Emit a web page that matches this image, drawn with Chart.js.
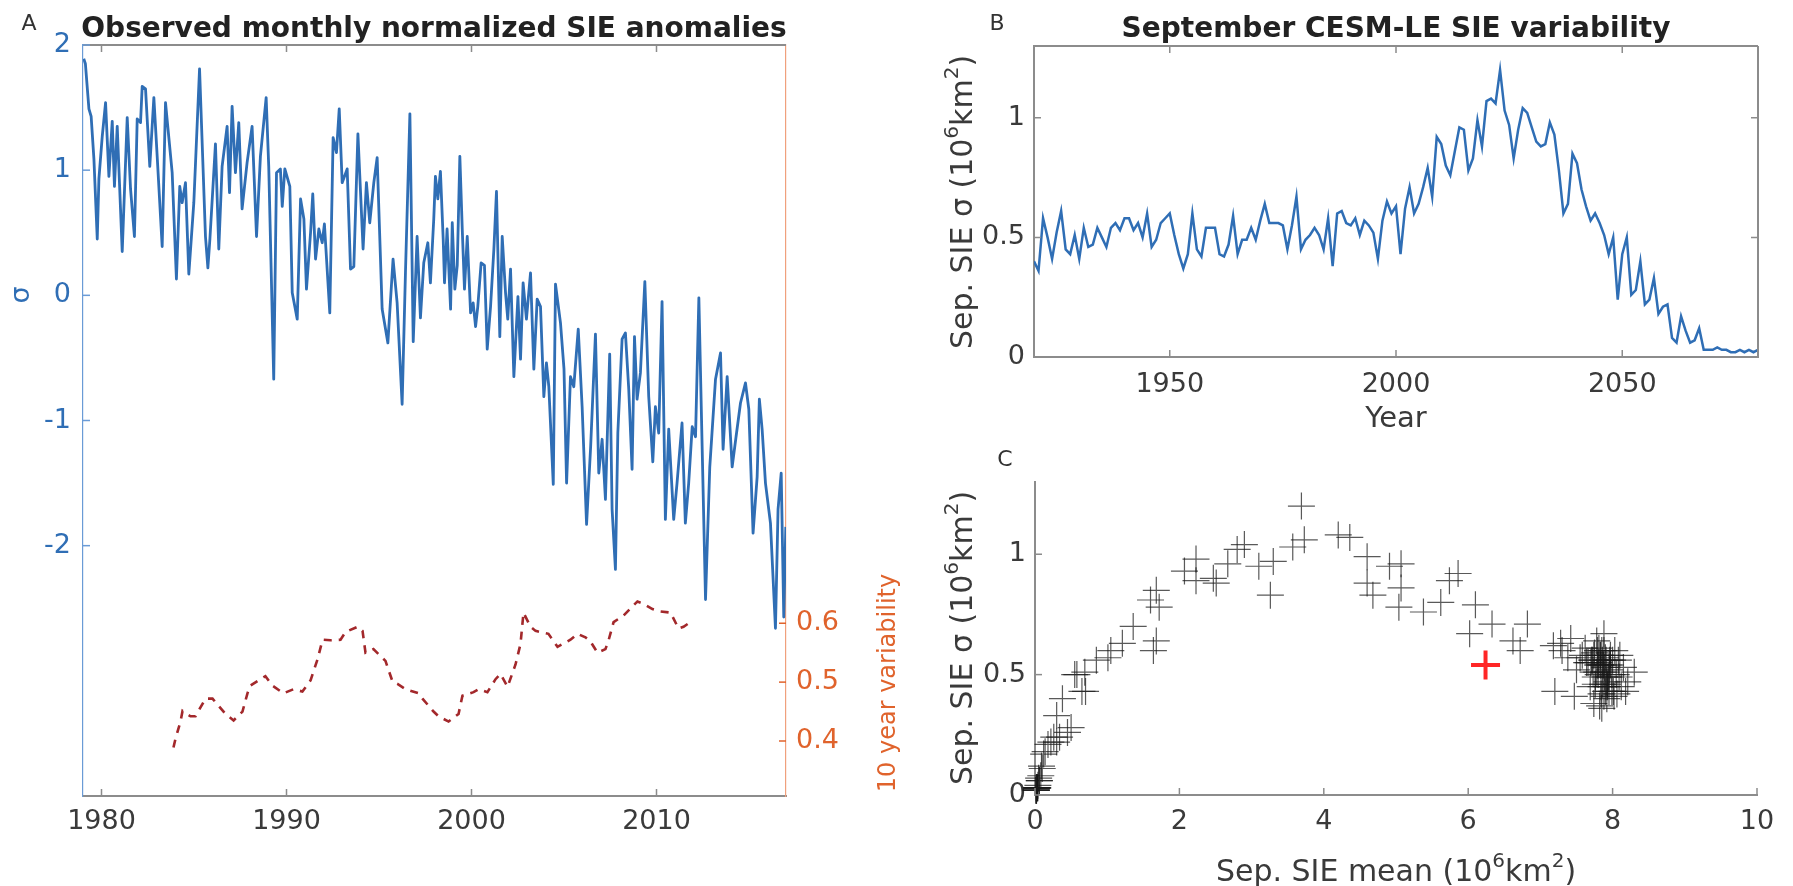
<!DOCTYPE html>
<html>
<head>
<meta charset="utf-8">
<script src="https://cdn.jsdelivr.net/npm/chart.js@4.4.1/dist/chart.umd.min.js"></script>
<style>
  html, body { margin: 0; padding: 0; background: #fff; }
  body { width: 1793px; height: 886px; position: relative; overflow: hidden; }
  canvas { position: absolute; }
  #chartA { left: 0; top: 0; }
  #chartB { left: 900px; top: 0; }
  #chartC { left: 900px; top: 440px; }
</style>
</head>
<body>
<canvas id="chartA" width="900" height="886"></canvas>
<canvas id="chartB" width="893" height="440"></canvas>
<canvas id="chartC" width="893" height="446"></canvas>
<script>
// Panel A: observed monthly normalized SIE anomalies
const obsYears = [
  1979.04, 1979.13, 1979.32, 1979.44, 1979.59, 1979.77, 1979.86, 1980.04, 1980.22, 1980.40,
  1980.58, 1980.70, 1980.85, 1981.12, 1981.39, 1981.57, 1981.78, 1981.93, 1982.11, 1982.20,
  1982.38, 1982.61, 1982.83, 1983.01, 1983.28, 1983.46, 1983.82, 1984.05, 1984.23, 1984.36,
  1984.54, 1984.72, 1984.99, 1985.30, 1985.62, 1985.75, 1985.86, 1986.16, 1986.34, 1986.52,
  1986.79, 1986.92, 1987.06, 1987.24, 1987.42, 1987.60, 1987.87, 1988.14, 1988.38, 1988.59,
  1988.90, 1989.04, 1989.31, 1989.46, 1989.67, 1989.77, 1989.91, 1990.18, 1990.31, 1990.58,
  1990.76, 1990.94, 1991.08, 1991.30, 1991.42, 1991.57, 1991.75, 1991.93, 1992.05, 1992.34,
  1992.52, 1992.70, 1992.85, 1993.01, 1993.28, 1993.46, 1993.64, 1993.86, 1994.14, 1994.32,
  1994.50, 1994.72, 1994.90, 1995.17, 1995.48, 1995.76, 1995.98, 1996.25, 1996.43, 1996.67,
  1996.85, 1997.06, 1997.24, 1997.42, 1997.64, 1997.78, 1997.96, 1998.05, 1998.18, 1998.32,
  1998.47, 1998.54, 1998.68, 1998.87, 1998.96, 1999.10, 1999.23, 1999.37, 1999.50, 1999.62,
  1999.77, 1999.95, 2000.09, 2000.22, 2000.34, 2000.52, 2000.70, 2000.85, 2001.03, 2001.21,
  2001.35, 2001.53, 2001.66, 2001.84, 2001.96, 2002.11, 2002.29, 2002.51, 2002.65, 2002.79,
  2002.97, 2003.19, 2003.37, 2003.55, 2003.73, 2003.91, 2004.05, 2004.18, 2004.42, 2004.54,
  2004.81, 2005.00, 2005.14, 2005.35, 2005.53, 2005.77, 2005.98, 2006.22, 2006.44, 2006.70,
  2006.88, 2007.06, 2007.24, 2007.47, 2007.60, 2007.78, 2007.91, 2008.14, 2008.32, 2008.50,
  2008.68, 2008.81, 2008.95, 2009.13, 2009.37, 2009.58, 2009.80, 2009.94, 2010.12, 2010.30,
  2010.48, 2010.66, 2010.93, 2011.11, 2011.38, 2011.56, 2011.74, 2011.93, 2012.11, 2012.29,
  2012.47, 2012.65, 2012.88, 2013.19, 2013.46, 2013.60, 2013.82, 2014.09, 2014.30, 2014.54,
  2014.81, 2014.99, 2015.22, 2015.44, 2015.56, 2015.71, 2015.89, 2016.16, 2016.43, 2016.57,
  2016.74, 2016.88, 2016.99
];
const obsSigma = [
  1.89, 1.85, 1.49, 1.43, 1.09, 0.45, 0.93, 1.27, 1.54, 0.95,
  1.39, 0.87, 1.35, 0.35, 1.42, 0.85, 0.47, 1.41, 1.38, 1.67,
  1.65, 1.03, 1.58, 1.11, 0.39, 1.54, 0.98, 0.13, 0.87, 0.74,
  0.90, 0.17, 0.74, 1.81, 0.47, 0.22, 0.45, 1.21, 0.37, 1.03,
  1.35, 0.82, 1.51, 0.98, 1.38, 0.69, 1.06, 1.35, 0.47, 1.11,
  1.58, 1.03, -0.67, 0.98, 1.01, 0.71, 1.01, 0.87, 0.02, -0.19,
  0.77, 0.61, 0.05, 0.50, 0.81, 0.29, 0.53, 0.42, 0.57, -0.14,
  1.26, 1.14, 1.49, 0.90, 1.01, 0.21, 0.23, 1.29, 0.37, 0.90,
  0.58, 0.90, 1.10, -0.11, -0.38, 0.29, -0.06, -0.87, 0.18, 1.45,
  -0.37, 0.47, -0.18, 0.26, 0.42, 0.10, 0.61, 0.95, 0.77, 0.99,
  0.45, 0.10, 0.53, -0.11, 0.58, 0.05, 0.24, 1.11, 0.53, 0.05,
  0.47, -0.14, -0.06, -0.25, -0.09, 0.26, 0.24, -0.43, -0.09, 0.37,
  0.83, -0.33, 0.47, 0.02, -0.19, 0.21, -0.65, -0.01, -0.51, 0.10,
  -0.19, 0.18, -0.59, -0.03, -0.09, -0.81, -0.54, -0.73, -1.51, 0.09,
  -0.22, -0.59, -1.50, -0.65, -0.73, -0.27, -0.89, -1.83, -1.21, -0.31,
  -1.42, -1.15, -1.63, -0.47, -1.71, -2.19, -1.10, -0.35, -0.30, -0.75,
  -1.39, -0.33, -0.83, -0.62, 0.11, -0.81, -1.33, -0.89, -1.10, -0.05,
  -1.79, -1.07, -1.79, -1.50, -1.02, -1.82, -1.50, -1.05, -1.13, -0.02,
  -1.23, -2.43, -1.37, -0.67, -0.46, -1.23, -0.65, -1.37, -1.13, -0.86,
  -0.70, -0.91, -1.90, -1.45, -0.83, -1.07, -1.50, -1.82, -2.66, -1.71,
  -1.42, -2.57, -1.85
];
// Panel A: 10 year variability (right axis)
const varYears = [
  1983.89, 1984.00, 1984.27, 1984.38, 1984.81, 1985.08, 1985.62, 1986.00, 1986.70, 1987.14,
  1987.62, 1987.89, 1988.05, 1988.59, 1988.86, 1989.24, 1989.84, 1990.38, 1990.86, 1991.30,
  1991.68, 1991.95, 1992.38, 1992.92, 1993.19, 1993.84, 1994.11, 1994.27, 1994.70, 1995.35,
  1995.73, 1996.00, 1996.43, 1997.14, 1997.35, 1997.95, 1998.22, 1998.76, 1999.30, 1999.51,
  2000.11, 2000.38, 2000.86, 2001.30, 2001.57, 2001.95, 2002.38, 2002.65, 2002.81, 2003.19,
  2003.46, 2004.16, 2004.65, 2005.35, 2005.73, 2006.16, 2006.43, 2006.81, 2007.24, 2007.41,
  2007.68, 2008.22, 2008.97, 2009.30, 2009.78, 2010.22, 2010.76, 2011.19, 2011.46, 2011.84
];
const varValues = [
  0.389, 0.404, 0.433, 0.451, 0.442, 0.442, 0.472, 0.472, 0.446, 0.435,
  0.450, 0.481, 0.494, 0.505, 0.510, 0.494, 0.481, 0.488, 0.484, 0.503,
  0.539, 0.572, 0.571, 0.572, 0.585, 0.594, 0.587, 0.550, 0.556, 0.536,
  0.501, 0.497, 0.488, 0.481, 0.472, 0.450, 0.442, 0.433, 0.446, 0.477,
  0.483, 0.488, 0.483, 0.505, 0.514, 0.492, 0.530, 0.565, 0.618, 0.594,
  0.587, 0.582, 0.560, 0.572, 0.582, 0.576, 0.569, 0.550, 0.556, 0.571,
  0.602, 0.613, 0.637, 0.633, 0.624, 0.620, 0.618, 0.591, 0.594, 0.602
];
const obsTickYears = [1980, 1990, 2000, 2010];
const sigmaTicks = [-2, -1, 0, 1, 2];
const varTicks = [0.4, 0.5, 0.6];

// Panels B and C: CESM-LE September SIE, one value per year
const cesmYears = [
  1920, 1921, 1922, 1923, 1924, 1925, 1926, 1927, 1928, 1929,
  1930, 1931, 1932, 1933, 1934, 1935, 1936, 1937, 1938, 1939,
  1940, 1941, 1942, 1943, 1944, 1945, 1946, 1947, 1948, 1949,
  1950, 1951, 1952, 1953, 1954, 1955, 1956, 1957, 1958, 1959,
  1960, 1961, 1962, 1963, 1964, 1965, 1966, 1967, 1968, 1969,
  1970, 1971, 1972, 1973, 1974, 1975, 1976, 1977, 1978, 1979,
  1980, 1981, 1982, 1983, 1984, 1985, 1986, 1987, 1988, 1989,
  1990, 1991, 1992, 1993, 1994, 1995, 1996, 1997, 1998, 1999,
  2000, 2001, 2002, 2003, 2004, 2005, 2006, 2007, 2008, 2009,
  2010, 2011, 2012, 2013, 2014, 2015, 2016, 2017, 2018, 2019,
  2020, 2021, 2022, 2023, 2024, 2025, 2026, 2027, 2028, 2029,
  2030, 2031, 2032, 2033, 2034, 2035, 2036, 2037, 2038, 2039,
  2040, 2041, 2042, 2043, 2044, 2045, 2046, 2047, 2048, 2049,
  2050, 2051, 2052, 2053, 2054, 2055, 2056, 2057, 2058, 2059,
  2060, 2061, 2062, 2063, 2064, 2065, 2066, 2067, 2068, 2069,
  2070, 2071, 2072, 2073, 2074, 2075, 2076, 2077, 2078, 2079,
  2080
];
const cesmStd = [
  0.40, 0.36, 0.58, 0.50, 0.41, 0.52, 0.61, 0.45, 0.43, 0.51,
  0.41, 0.54, 0.46, 0.47, 0.54, 0.50, 0.46, 0.54, 0.56, 0.53,
  0.58, 0.58, 0.53, 0.56, 0.50, 0.60, 0.46, 0.49, 0.56, 0.58,
  0.60, 0.51, 0.43, 0.37, 0.43, 0.60, 0.45, 0.42, 0.54, 0.54,
  0.54, 0.43, 0.42, 0.47, 0.59, 0.43, 0.49, 0.49, 0.54, 0.49,
  0.57, 0.64, 0.56, 0.56, 0.56, 0.55, 0.45, 0.55, 0.67, 0.45,
  0.49, 0.51, 0.54, 0.51, 0.45, 0.58, 0.38, 0.60, 0.61, 0.56,
  0.55, 0.58, 0.51, 0.57, 0.55, 0.52, 0.41, 0.57, 0.65, 0.60,
  0.63, 0.43, 0.62, 0.71, 0.60, 0.64, 0.71, 0.79, 0.67, 0.92,
  0.89, 0.80, 0.76, 0.86, 0.96, 0.95, 0.78, 0.83, 0.99, 0.88,
  1.07, 1.08, 1.06, 1.20, 1.03, 0.97, 0.83, 0.95, 1.04, 1.02,
  0.96, 0.90, 0.88, 0.89, 0.98, 0.93, 0.78, 0.60, 0.64, 0.85,
  0.81, 0.70, 0.63, 0.57, 0.60, 0.56, 0.51, 0.43, 0.50, 0.24,
  0.43, 0.50, 0.26, 0.28, 0.40, 0.22, 0.24, 0.33, 0.18, 0.21,
  0.22, 0.08, 0.06, 0.17, 0.11, 0.06, 0.07, 0.12, 0.03, 0.03,
  0.03, 0.04, 0.03, 0.03, 0.02, 0.02, 0.03, 0.02, 0.03, 0.02,
  0.03
];
const cesmMean = [
  7.92, 7.85, 7.74, 8.05, 7.88, 7.96, 7.81, 8.12, 7.90, 7.78,
  8.02, 7.87, 7.93, 8.21, 7.84, 7.99, 7.76, 7.95, 8.08, 7.89,
  7.83, 7.97, 8.15, 7.91, 7.80, 8.03, 7.86, 7.94, 7.72, 8.10,
  7.88, 8.30, 7.95, 7.82, 7.99, 7.85, 7.91, 8.06, 7.79, 7.97,
  7.87, 8.18, 7.84, 7.92, 7.75, 8.01, 7.89, 7.95, 7.83, 8.09,
  7.90, 7.78, 7.96, 7.86, 8.00, 7.81, 7.93, 7.70, 7.88, 7.84,
  7.76, 7.92, 7.80, 7.87, 7.69, 7.83, 7.74, 7.79, 7.62, 7.71,
  7.66, 7.58, 7.73, 7.55, 7.64, 7.50, 7.47, 7.38, 7.42, 7.30,
  7.28, 7.20, 7.18, 6.82, 6.72, 6.62, 6.33, 6.10, 6.02, 5.86,
  5.74, 5.62, 5.38, 5.07, 5.07, 4.91, 5.04, 4.68, 4.60, 4.60,
  4.36, 4.20, 3.73, 3.69, 3.57, 3.30, 3.26, 3.10, 2.90, 2.80,
  2.67, 2.47, 2.51, 2.23, 2.23, 2.07, 1.72, 1.64, 1.68, 1.68,
  1.60, 1.36, 1.21, 1.01, 1.05, 0.85, 0.69, 0.65, 0.58, 0.34,
  0.70, 0.55, 0.45, 0.50, 0.38, 0.30, 0.26, 0.30, 0.14, 0.18,
  0.22, 0.08, 0.06, 0.12, 0.10, 0.06, 0.05, 0.09, 0.04, 0.03,
  0.03, 0.04, 0.02, 0.03, 0.02, 0.02, 0.03, 0.02, 0.02, 0.01,
  0.02
];
const observedMean = [6.24];
const observedStd = [0.54];
const cesmTickYears = [1950, 2000, 2050];
const stdTicks = [0, 0.5, 1];
const meanTicks = [0, 2, 4, 6, 8, 10];

const FONT = "'DejaVu Sans', sans-serif";
const TEXT = '#3a3a3a';
const AXIS = '#8c8c8c';
const BLUE = '#2f6eb5';
const ORANGE = '#e0632c';
const DARK_RED = '#a3282b';

Chart.defaults.font.family = FONT;
Chart.defaults.font.size = 27;
Chart.defaults.color = TEXT;

// label with raised exponents, e.g. (10^6 km^2)
const stdLabel = [['Sep. SIE σ (10'], ['6', 1], ['km'], ['2', 1], [')']];
const meanLabel = [['Sep. SIE mean (10'], ['6', 1], ['km'], ['2', 1], [')']];

function drawRich(ctx, parts, x, y, rotate, size, color) {
  const supSize = Math.round(size * 0.68);
  const fontOf = sup => (sup ? supSize : size) + 'px ' + FONT;
  let total = 0;
  parts.forEach(p => { ctx.font = fontOf(p[1]); total += ctx.measureText(p[0]).width; });
  ctx.save();
  ctx.translate(x, y);
  if (rotate) ctx.rotate(-Math.PI / 2);
  ctx.fillStyle = color;
  ctx.textAlign = 'left';
  ctx.textBaseline = 'alphabetic';
  let cx = -total / 2;
  const base = size * 0.36;
  parts.forEach(p => {
    ctx.font = fontOf(p[1]);
    ctx.fillText(p[0], cx, p[1] ? base - size * 0.45 : base);
    cx += ctx.measureText(p[0]).width;
  });
  ctx.restore();
}

// matlab style: inward ticks, box edges, free positioned labels
const matlabAxes = {
  id: 'matlabAxes',
  afterDraw(chart, args, opts) {
    const ctx = chart.ctx;
    const area = chart.chartArea;
    const len = 7;
    ctx.save();
    (opts.edges || []).forEach(e => {
      ctx.strokeStyle = e.color;
      ctx.lineWidth = e.width;
      ctx.beginPath();
      if (e.side === 'top') { ctx.moveTo(area.left, area.top); ctx.lineTo(area.right, area.top); }
      if (e.side === 'right') { ctx.moveTo(area.right, area.top); ctx.lineTo(area.right, area.bottom); }
      ctx.stroke();
    });
    ctx.lineWidth = 1.5;
    (opts.ticks || []).forEach(t => {
      const scale = chart.scales[t.id];
      ctx.strokeStyle = t.color;
      scale.ticks.forEach(tick => {
        const p = scale.getPixelForValue(tick.value);
        ctx.beginPath();
        if (scale.isHorizontal()) {
          ctx.moveTo(p, area.bottom); ctx.lineTo(p, area.bottom - len);
          if (t.mirror) { ctx.moveTo(p, area.top); ctx.lineTo(p, area.top + len); }
        } else if (scale.position === 'left') {
          ctx.moveTo(area.left, p); ctx.lineTo(area.left + len, p);
          if (t.mirror) { ctx.moveTo(area.right, p); ctx.lineTo(area.right - len, p); }
        } else {
          ctx.moveTo(area.right, p); ctx.lineTo(area.right - len, p);
        }
        ctx.stroke();
      });
    });
    (opts.texts || []).forEach(t => {
      ctx.save();
      ctx.font = t.font;
      ctx.fillStyle = t.color;
      ctx.textAlign = 'center';
      ctx.textBaseline = t.baseline || 'middle';
      ctx.translate(t.x, t.y);
      if (t.rotate) ctx.rotate(-Math.PI / 2);
      ctx.fillText(t.text, 0, 0);
      ctx.restore();
    });
    (opts.rich || []).forEach(r => drawRich(ctx, r.parts, r.x, r.y, r.rotate, r.size, r.color));
    ctx.restore();
  }
};

function fixedTicks(values) {
  return scale => { scale.ticks = values.map(v => ({ value: v })); };
}
const noGrid = { display: false, drawTicks: false };
const common = {
  responsive: false,
  animation: false,
  devicePixelRatio: 1,
  plugins: { legend: { display: false }, tooltip: { enabled: false } }
};

// ---- Panel A
new Chart(document.getElementById('chartA'), {
  type: 'line',
  data: {
    datasets: [
      {
        data: obsYears.map((x, i) => ({ x: x, y: obsSigma[i] })),
        yAxisID: 'y', borderColor: BLUE, borderWidth: 2.8,
        pointRadius: 0, tension: 0, borderJoinStyle: 'round'
      },
      {
        data: varYears.map((x, i) => ({ x: x, y: varValues[i] })),
        yAxisID: 'y1', borderColor: DARK_RED, borderWidth: 2.6,
        borderDash: [8, 7], pointRadius: 0, tension: 0
      }
    ]
  },
  options: {
    ...common,
    layout: { padding: { top: 45, left: 0, right: 0, bottom: 0 } },
    scales: {
      x: {
        type: 'linear', min: 1979, max: 2017,
        afterBuildTicks: fixedTicks(obsTickYears),
        afterFit: s => { s.height = 90; },
        grid: noGrid, border: { color: AXIS, width: 2 },
        ticks: { padding: 10, color: TEXT, maxRotation: 0, autoSkip: false, callback: v => String(v) }
      },
      y: {
        position: 'left', min: -4, max: 2,
        afterBuildTicks: fixedTicks(sigmaTicks),
        afterFit: s => { s.width = 83; },
        grid: noGrid, border: { color: '#6a9bd6', width: 1.2 },
        ticks: { padding: 12, color: BLUE, autoSkip: false, callback: v => String(v) }
      },
      y1: {
        position: 'right', min: 0.3066, max: 1.582,
        afterBuildTicks: fixedTicks(varTicks),
        afterFit: s => { s.width = 114; },
        grid: noGrid, border: { color: '#f0a07c', width: 1.2 },
        ticks: { padding: 10, color: ORANGE, autoSkip: false, callback: v => String(v) }
      }
    },
    plugins: {
      ...common.plugins,
      matlabAxes: {
        edges: [{ side: 'top', color: AXIS, width: 2 }],
        ticks: [
          { id: 'x', color: AXIS, mirror: true },
          { id: 'y', color: '#6a9bd6' },
          { id: 'y1', color: ORANGE }
        ],
        texts: [
          { text: 'A', x: 29, y: 24, font: '22px ' + FONT, color: '#333' },
          { text: 'Observed monthly normalized SIE anomalies', x: 434, y: 37, baseline: 'alphabetic',
            font: 'bold 28px ' + FONT, color: '#222' },
          { text: 'σ', x: 22, y: 295, rotate: true, font: '27px ' + FONT, color: BLUE },
          { text: '10 year variability', x: 889, y: 683, rotate: true, font: '24px ' + FONT, color: ORANGE }
        ]
      }
    }
  },
  plugins: [matlabAxes]
});

// ---- Panel B
new Chart(document.getElementById('chartB'), {
  type: 'line',
  data: {
    datasets: [{
      data: cesmYears.map((x, i) => ({ x: x, y: cesmStd[i] })),
      borderColor: BLUE, borderWidth: 2.5, pointRadius: 0, tension: 0
    }]
  },
  options: {
    ...common,
    layout: { padding: { top: 46, left: 0, right: 35, bottom: 0 } },
    scales: {
      x: {
        type: 'linear', min: 1920, max: 2080,
        afterBuildTicks: fixedTicks(cesmTickYears),
        afterFit: s => { s.height = 83; },
        grid: noGrid, border: { color: AXIS, width: 2 },
        ticks: { padding: 12, color: TEXT, maxRotation: 0, autoSkip: false, callback: v => String(v) }
      },
      y: {
        min: 0, max: 1.3,
        afterBuildTicks: fixedTicks(stdTicks),
        afterFit: s => { s.width = 134; },
        grid: noGrid, border: { color: AXIS, width: 2 },
        ticks: { padding: 9, color: TEXT, autoSkip: false, callback: v => String(v) }
      }
    },
    plugins: {
      ...common.plugins,
      matlabAxes: {
        edges: [{ side: 'top', color: AXIS, width: 2 }, { side: 'right', color: AXIS, width: 2 }],
        ticks: [{ id: 'x', color: AXIS, mirror: true }, { id: 'y', color: AXIS, mirror: true }],
        texts: [
          { text: 'B', x: 97, y: 24, font: '22px ' + FONT, color: '#333' },
          { text: 'September CESM-LE SIE variability', x: 496, y: 37, baseline: 'alphabetic',
            font: 'bold 28px ' + FONT, color: '#222' },
          { text: 'Year', x: 496, y: 419, font: '29px ' + FONT, color: TEXT }
        ],
        rich: [{ parts: stdLabel, x: 61, y: 202, rotate: true, size: 30, color: TEXT }]
      }
    }
  },
  plugins: [matlabAxes]
});

// ---- Panel C
new Chart(document.getElementById('chartC'), {
  type: 'scatter',
  data: {
    datasets: [
      {
        data: cesmMean.map((x, i) => ({ x: x, y: cesmStd[i] })),
        pointStyle: 'cross', pointRadius: 13.5, pointBorderWidth: 1.2,
        pointBorderColor: 'rgba(25,25,25,0.72)', clip: false
      },
      {
        data: observedMean.map((x, i) => ({ x: x, y: observedStd[i] })),
        pointStyle: 'cross', pointRadius: 14.5, pointBorderWidth: 4,
        pointBorderColor: '#ff2626', clip: false
      }
    ]
  },
  options: {
    ...common,
    layout: { padding: { top: 42, left: 0, right: 36, bottom: 0 } },
    scales: {
      x: {
        type: 'linear', min: 0, max: 10,
        afterBuildTicks: fixedTicks(meanTicks),
        afterFit: s => { s.height = 91; },
        grid: noGrid, border: { color: AXIS, width: 2 },
        ticks: { padding: 11, color: TEXT, maxRotation: 0, autoSkip: false, callback: v => String(v) }
      },
      y: {
        min: 0, max: 1.3,
        afterBuildTicks: fixedTicks(stdTicks),
        afterFit: s => { s.width = 135; },
        grid: noGrid, border: { color: AXIS, width: 2 },
        ticks: { padding: 9, color: TEXT, autoSkip: false, callback: v => String(v) }
      }
    },
    plugins: {
      ...common.plugins,
      matlabAxes: {
        ticks: [{ id: 'x', color: AXIS }, { id: 'y', color: AXIS }],
        texts: [
          { text: 'C', x: 105, y: 20, font: '22px ' + FONT, color: '#333' }
        ],
        rich: [
          { parts: stdLabel, x: 61, y: 198, rotate: true, size: 30, color: TEXT },
          { parts: meanLabel, x: 496, y: 430, rotate: false, size: 30, color: TEXT }
        ]
      }
    }
  },
  plugins: [matlabAxes]
});
</script>
</body>
</html>
